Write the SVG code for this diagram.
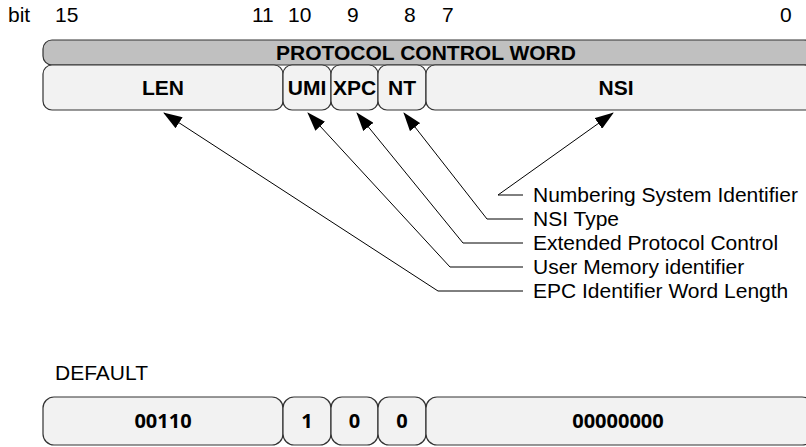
<svg xmlns="http://www.w3.org/2000/svg" width="806" height="447" viewBox="0 0 806 447">
<defs>
<marker id="ah" markerWidth="19" markerHeight="13" refX="18" refY="6.5" orient="auto" markerUnits="userSpaceOnUse">
<path d="M0,0 L19,6.5 L0,13 Z" fill="#000"/>
</marker>
<style>
text{font-family:"Liberation Sans",Arial,sans-serif;fill:#000}
.t{font-size:21px}
.b{font-size:21px;font-weight:bold;text-anchor:middle}
.v{font-family:"Open Sans","Liberation Sans",sans-serif;font-size:20px;font-weight:bold;text-anchor:middle}
.bar{fill:#c0c0c0;stroke:#333;stroke-width:1.2}
.box{fill:#f2f2f2;stroke:#333;stroke-width:1.2}
.c{fill:none;stroke:#000;stroke-width:1}
</style>
</defs>
<g id="bits">
<text class="t" x="8" y="22">bit</text>
<text class="t" x="55" y="22">15</text>
<text class="t" x="252" y="22">11</text>
<text class="t" x="288" y="22">10</text>
<text class="t" x="347" y="22">9</text>
<text class="t" x="404" y="22">8</text>
<text class="t" x="442" y="22">7</text>
<text class="t" x="780" y="22">0</text>
</g>
<g id="pcw">
<rect class="bar" x="43" y="40" width="770" height="25" rx="9"/>
<text class="b" x="426" y="59.5">PROTOCOL CONTROL WORD</text>
</g>
<g id="len"><rect class="box" x="43" y="65" width="240" height="45" rx="9"/><text class="b" x="163" y="95">LEN</text></g>
<g id="umi"><rect class="box" x="283" y="65" width="48" height="45" rx="9"/><text class="b" x="307" y="95">UMI</text></g>
<g id="xpc"><rect class="box" x="331" y="65" width="47" height="45" rx="9"/><text class="b" x="354.5" y="95">XPC</text></g>
<g id="nt"><rect class="box" x="378" y="65" width="48" height="45" rx="9"/><text class="b" x="402" y="95">NT</text></g>
<g id="nsi"><rect class="box" x="426" y="65" width="387" height="45" rx="9"/><text class="b" x="616" y="95">NSI</text></g>
<g id="connectors">
<path class="c" d="M523,195 H498 L613,113" marker-end="url(#ah)"/>
<path class="c" d="M523,219 H487 L404,113" marker-end="url(#ah)"/>
<path class="c" d="M523,243 H463 L357,113" marker-end="url(#ah)"/>
<path class="c" d="M523,267 H450 L308,113" marker-end="url(#ah)"/>
<path class="c" d="M523,291 H438 L164,113" marker-end="url(#ah)"/>
</g>
<g id="labels">
<text class="t" x="533" y="202">Numbering System Identifier</text>
<text class="t" x="533" y="226">NSI Type</text>
<text class="t" x="533" y="250">Extended Protocol Control</text>
<text class="t" x="533" y="274">User Memory identifier</text>
<text class="t" x="533" y="298">EPC Identifier Word Length</text>
</g>
<text class="t" x="55" y="380">DEFAULT</text>
<g id="d-len"><rect class="box" x="43" y="397" width="240" height="48" rx="11"/><text class="v" x="163" y="428">00110</text></g>
<g id="d-umi"><rect class="box" x="283" y="397" width="48" height="48" rx="11"/><text class="v" x="307" y="428">1</text></g>
<g id="d-xpc"><rect class="box" x="331" y="397" width="47" height="48" rx="11"/><text class="v" x="354.5" y="428">0</text></g>
<g id="d-nt"><rect class="box" x="378" y="397" width="48" height="48" rx="11"/><text class="v" x="402" y="428">0</text></g>
<g id="d-nsi"><rect class="box" x="426" y="397" width="387" height="48" rx="11"/><text class="v" x="618" y="428">00000000</text></g>
</svg>
